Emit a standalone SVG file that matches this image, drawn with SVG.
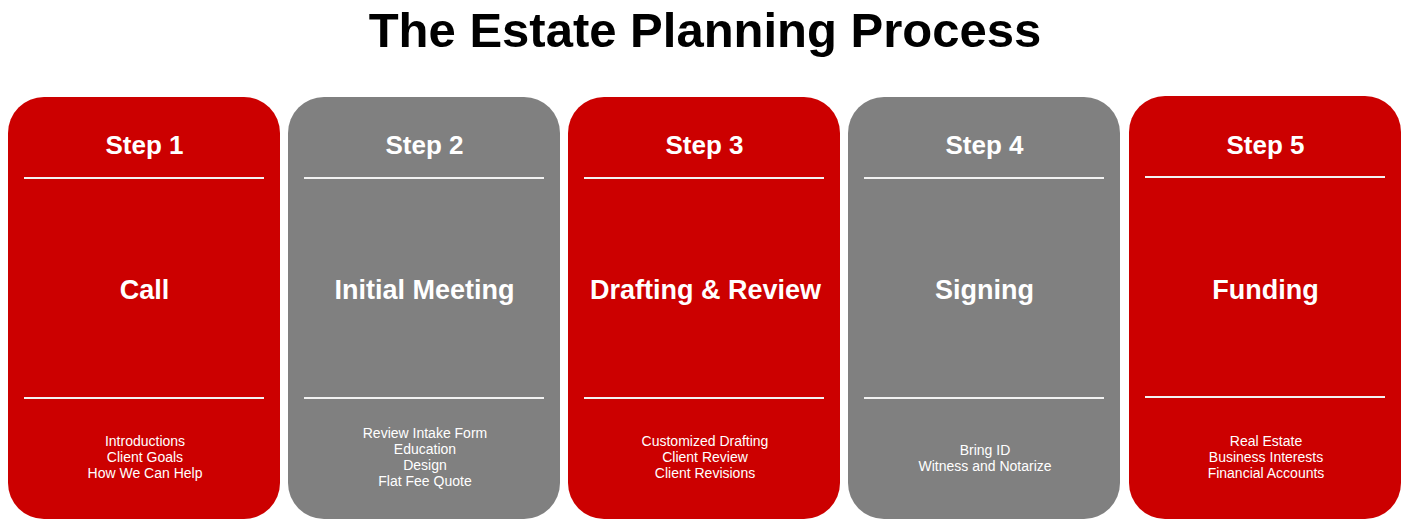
<svg xmlns="http://www.w3.org/2000/svg" width="1409" height="527" viewBox="0 0 1409 527">
<style>
.title{font-family:"Liberation Sans",Arial,sans-serif;font-weight:bold;font-size:49px;fill:#000;text-anchor:middle}
.step{font-family:"Liberation Sans",Arial,sans-serif;font-weight:bold;font-size:26px;fill:#fff;text-anchor:middle}
.name{font-family:"Liberation Sans",Arial,sans-serif;font-weight:bold;font-size:27px;fill:#fff;text-anchor:middle}
.item{font-family:"Liberation Sans",Arial,sans-serif;font-size:14px;fill:#fff;text-anchor:middle}
.red{fill:#cc0000}
.gray{fill:#808080}
.rule{stroke:#f2f2f2;stroke-width:2}
</style>
<rect width="1409" height="527" fill="#fff"/>
<text class="title" x="705" y="47">The Estate Planning Process</text>
<g id="step1">
<rect class="red" x="8" y="97" width="272" height="422" rx="36"/>
<text class="step" x="144.5" y="154">Step 1</text>
<line class="rule" x1="24" y1="178" x2="264" y2="178"/>
<text class="name" x="144.5" y="299">Call</text>
<line class="rule" x1="24" y1="398" x2="264" y2="398"/>
<text class="item" x="145" y="446">Introductions</text>
<text class="item" x="145" y="462">Client Goals</text>
<text class="item" x="145" y="478">How We Can Help</text>
</g>
<g id="step2">
<rect class="gray" x="288" y="97" width="272" height="422" rx="36"/>
<text class="step" x="424.5" y="154">Step 2</text>
<line class="rule" x1="304" y1="178" x2="544" y2="178"/>
<text class="name" x="424.5" y="299">Initial Meeting</text>
<line class="rule" x1="304" y1="398" x2="544" y2="398"/>
<text class="item" x="425" y="438">Review Intake Form</text>
<text class="item" x="425" y="454">Education</text>
<text class="item" x="425" y="470">Design</text>
<text class="item" x="425" y="486">Flat Fee Quote</text>
</g>
<g id="step3">
<rect class="red" x="568" y="97" width="272" height="422" rx="36"/>
<text class="step" x="704.5" y="154">Step 3</text>
<line class="rule" x1="584" y1="178" x2="824" y2="178"/>
<text class="name" x="705.5" y="299">Drafting &amp; Review</text>
<line class="rule" x1="584" y1="398" x2="824" y2="398"/>
<text class="item" x="705" y="446">Customized Drafting</text>
<text class="item" x="705" y="462">Client Review</text>
<text class="item" x="705" y="478">Client Revisions</text>
</g>
<g id="step4">
<rect class="gray" x="848" y="97" width="272" height="422" rx="36"/>
<text class="step" x="984.5" y="154">Step 4</text>
<line class="rule" x1="864" y1="178" x2="1104" y2="178"/>
<text class="name" x="984.5" y="299">Signing</text>
<line class="rule" x1="864" y1="398" x2="1104" y2="398"/>
<text class="item" x="985" y="455">Bring ID</text>
<text class="item" x="985" y="471">Witness and Notarize</text>
</g>
<g id="step5">
<rect class="red" x="1129" y="96" width="272" height="423" rx="36"/>
<text class="step" x="1265.5" y="154">Step 5</text>
<line class="rule" x1="1145" y1="177" x2="1385" y2="177"/>
<text class="name" x="1265.5" y="299">Funding</text>
<line class="rule" x1="1145" y1="397" x2="1385" y2="397"/>
<text class="item" x="1266" y="446">Real Estate</text>
<text class="item" x="1266" y="462">Business Interests</text>
<text class="item" x="1266" y="478">Financial Accounts</text>
</g>
<g id="connectors"></g>
</svg>
